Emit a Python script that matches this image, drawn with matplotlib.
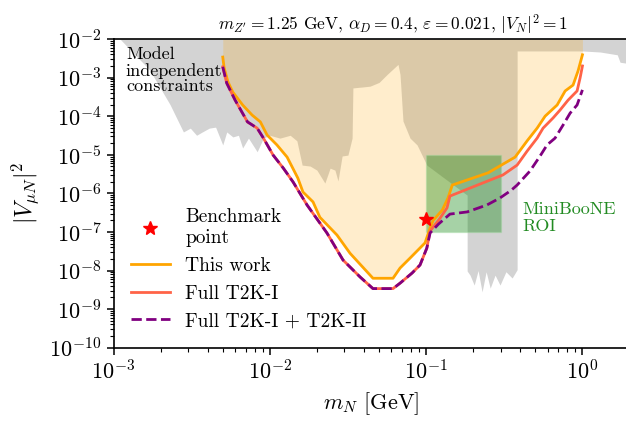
import numpy as np
import matplotlib.pyplot as plt
from matplotlib.ticker import LogLocator, NullFormatter

plt.rcParams['font.family'] = 'serif'
plt.rcParams['font.serif'] = ['cmr10']
plt.rcParams['mathtext.fontset'] = 'cm'
plt.rcParams['axes.formatter.use_mathtext'] = True

# Model independent constraints (lower edge of excluded region)
grey_m = [0.0011, 0.0017, 0.0023, 0.0028, 0.0031, 0.0034, 0.0037, 0.0041, 0.0045,
          0.0050, 0.0053, 0.0058, 0.0063, 0.0067, 0.0073, 0.0083, 0.0091, 0.0100,
          0.0116, 0.0135, 0.0149, 0.0161, 0.0181, 0.0200, 0.0225, 0.0243, 0.0261,
          0.0273, 0.0290, 0.0316, 0.0336, 0.0340, 0.0390, 0.0438, 0.0500, 0.0562,
          0.0661, 0.0681, 0.0711, 0.0789, 0.0875, 0.101, 0.183, 0.183, 0.191, 0.203,
          0.215, 0.228, 0.242, 0.257, 0.276, 0.297, 0.324, 0.355, 0.382, 0.382,
          1.0, 1.3, 1.67, 1.74, 2.0]
grey_v = [1e-2, 1.6e-3, 2.0e-4, 3.9e-5, 4.9e-5, 3.2e-5, 3.9e-5, 4.9e-5, 5.2e-5,
          1.8e-5, 3.9e-5, 2.9e-5, 3.2e-5, 1.5e-5, 2.7e-5, 1.2e-5, 2.7e-5, 3.2e-5,
          2.7e-5, 3.2e-5, 2.3e-5, 5.4e-6, 5.1e-6, 4.0e-6, 1.85e-6, 4.5e-6, 4.0e-6,
          2.1e-6, 9.3e-6, 9.8e-6, 2.7e-5, 5.4e-4, 5.7e-4, 6.0e-4, 7.5e-4, 1.2e-3,
          2.2e-3, 1.2e-3, 7.5e-5, 2.7e-5, 1.8e-5, 5.4e-6, 9.0e-7, 9.7e-9, 7.6e-9, 4.2e-9,
          1.0e-8, 2.8e-9, 9.3e-9, 3.5e-9, 7.6e-9, 4.2e-9, 9.3e-9, 6.4e-9, 1.05e-8, 4.9e-3,
          4.9e-3, 4.6e-3, 3.9e-3, 2.5e-3, 2.3e-3]

# This work
orange_m = [0.0050, 0.0051, 0.0054, 0.0058, 0.0067, 0.0077, 0.0087, 0.0096, 0.0111,
            0.0129, 0.0151, 0.0163, 0.0189, 0.0209, 0.0269, 0.0326, 0.0395, 0.0457,
            0.0614, 0.0681, 0.0789, 0.0984, 0.106, 0.111, 0.127, 0.138, 0.147, 0.249,
            0.371, 0.443, 0.513, 0.577, 0.689, 0.775, 0.871, 0.938, 1.0]
orange_v = [3.4e-3, 1.8e-3, 7.7e-4, 4.2e-4, 1.95e-4, 1.07e-4, 7.1e-5, 3.25e-5, 1.8e-5,
            8.7e-6, 2.5e-6, 1.08e-6, 6.0e-7, 2.4e-7, 8.3e-8, 2.8e-8, 1.2e-8, 6.3e-9,
            6.3e-9, 1.16e-8, 2.1e-8, 5.2e-8, 1.26e-7, 2.0e-7, 3.7e-7, 7.6e-7, 1.64e-6,
            3.4e-6, 8.7e-6, 2.3e-5, 4.9e-5, 1.0e-4, 1.95e-4, 4.5e-4, 6.4e-4, 1.5e-3, 3.9e-3]

# Full T2K-I
red_m = [0.0050, 0.0053, 0.0060, 0.0072, 0.0083, 0.0091, 0.0105, 0.0122, 0.0141,
         0.0173, 0.0232, 0.0294, 0.0378, 0.0457, 0.0614, 0.0681, 0.0813, 0.0914,
         0.101, 0.106, 0.123, 0.136, 0.142, 0.31, 0.382, 0.443, 0.513, 0.560, 0.649,
         0.719, 0.809, 0.924, 0.966, 1.0]
red_v = [1.9e-3, 7.2e-4, 2.6e-4, 7.1e-5, 4.9e-5, 2.7e-5, 9.8e-6, 4.5e-6, 1.96e-6,
         5.0e-7, 9.4e-8, 1.87e-8, 6.8e-9, 3.4e-9, 3.4e-9, 4.7e-9, 8.6e-9, 1.39e-8,
         3.8e-8, 1.05e-7, 2.3e-7, 4.2e-7, 8.5e-7, 3.0e-6, 5.4e-6, 1.25e-5, 2.7e-5,
         4.9e-5, 9.0e-5, 1.44e-4, 2.6e-4, 4.5e-4, 9.8e-4, 2.0e-3]

# Full T2K-I + T2K-II
purple_m = [0.0050, 0.0053, 0.0060, 0.0072, 0.0083, 0.0091, 0.0105, 0.0122, 0.0141,
            0.0173, 0.0232, 0.0294, 0.0378, 0.0457, 0.0614, 0.0681, 0.0813, 0.0914,
            0.101, 0.106, 0.120, 0.142, 0.183, 0.245, 0.297, 0.35, 0.382, 0.462,
            0.536, 0.594, 0.668, 0.752, 0.834, 0.924, 1.0]
purple_v = [1.9e-3, 7.2e-4, 2.6e-4, 7.1e-5, 4.9e-5, 2.7e-5, 9.8e-6, 4.5e-6, 1.96e-6,
            5.0e-7, 9.4e-8, 1.87e-8, 6.8e-9, 3.4e-9, 3.4e-9, 4.7e-9, 8.6e-9, 1.39e-8,
            3.8e-8, 9.4e-8, 1.6e-7, 2.9e-7, 3.3e-7, 5.0e-7, 7.6e-7, 1.2e-6, 1.64e-6,
            3.8e-6, 9.3e-6, 1.8e-5, 2.7e-5, 5.9e-5, 1.2e-4, 1.95e-4, 4.8e-4]

# MiniBooNE region of interest and benchmark
roi_m = [0.1, 0.3]
roi_v = [1e-7, 1e-5]
bench_m = [0.1]
bench_v = [2.2e-7]

fig = plt.figure(figsize=(6.26, 4.21), dpi=100)
ax = fig.add_axes([113.5 / 626, 73.3 / 421, 516 / 626, 308.7 / 421])

ax.fill_between(grey_m, grey_v, 1e-2, color='lightgrey', lw=0)
ax.fill_between(orange_m, orange_v, 1e-2, color='orange', alpha=0.2, lw=0)
ax.fill_between(roi_m, roi_v[0], roi_v[1], color='green', alpha=0.35, lw=1,
                edgecolor=(0.6, 0.85, 0.6, 0.5))

ax.plot(bench_m, bench_v, '*', color='red', ms=10, ls='none', label='Benchmark\npoint', zorder=5)
ax.plot(orange_m, orange_v, color='orange', lw=2, label='This work')
ax.plot(red_m, red_v, color='tomato', lw=2, label='Full T2K-I')
ax.plot(purple_m, purple_v, color='purple', lw=2, ls='--', label='Full T2K-I + T2K-II')

ax.set_xscale('log')
ax.set_yscale('log')
ax.set_xlim(1e-3, 2)
ax.set_ylim(1e-10, 1e-2)
for axis in (ax.xaxis, ax.yaxis):
    axis.set_major_locator(LogLocator(base=10, numticks=20))
    axis.set_minor_locator(LogLocator(base=10, subs=np.arange(2, 10), numticks=100))
    axis.set_minor_formatter(NullFormatter())
ax.tick_params(labelsize=16)
ax.tick_params(which='major', length=5, width=1.1)
ax.tick_params(which='minor', length=3, width=0.8)
for s in ax.spines.values():
    s.set_linewidth(1.2)

ax.set_xlabel(r'$m_N$ [GeV]', fontsize=16, labelpad=5)
ax.set_ylabel(r'$|V_{\mu N}|^2$', fontsize=17, labelpad=6)
ax.set_title(r"$m_{Z'} = 1.25$ GeV, $\alpha_D = 0.4$, $\varepsilon = 0.021$, $|V_N|^2 = 1$",
             fontsize=12.5, x=0.541)

ax.text(0.024, 0.975, 'Model\nindependent\nconstraints', transform=ax.transAxes,
        ha='left', va='top', fontsize=13, linespacing=1.05)
ax.text(0.792, 0.42, 'MiniBooNE\nROI', transform=ax.transAxes, ha='left', va='center',
        fontsize=13, color='forestgreen', linespacing=1.1)

ax.legend(loc='lower left', frameon=False, fontsize=14)

fig.savefig('out.png', dpi=100)
